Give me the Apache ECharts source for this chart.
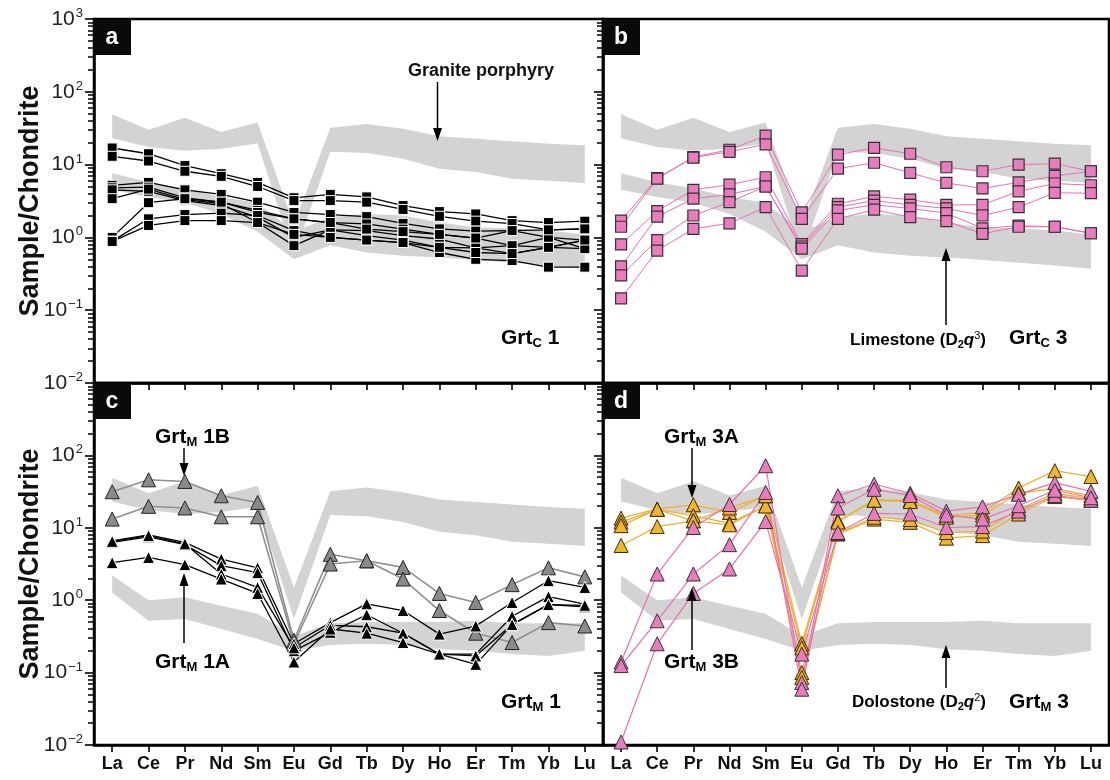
<!DOCTYPE html>
<html>
<head>
<meta charset="utf-8">
<script src="https://cdn.jsdelivr.net/npm/echarts@6/dist/echarts.min.js"></script>
<style>
html,body{margin:0;padding:0;background:#fff}
#main{width:1110px;height:780px}
</style>
</head>
<body>
<div id="main"></div>
<script>
var FONT = '"Liberation Sans", Arial, Helvetica, sans-serif';

var ree = ['La','Ce','Pr','Nd','Sm','Eu','Gd','Tb','Dy','Ho','Er','Tm','Yb','Lu'];

// grey reference fields (upper / lower edge of each field)
var graniteTop = [49, 30, 44, 28, 38, 1.5, 32, 36, 31, 24.5, 22.7, 21, 19.4, 18.4];
var graniteBot = [23, 17.5, 15.5, 16.5, 19.5, 0.55, 15, 14.4, 12, 8.8, 7.9, 6.4, 6, 5.6];
var limeTop = [7.6, 5.7, 4.7, 3.6, 3.0, 1.2, 1.9, 2.1, 2.0, 1.6, 1.38, 1.32, 1.24, 1.1];
var limeBot = [4.5, 3.6, 3.0, 2.1, 1.2, 0.5, 0.78, 0.62, 0.56, 0.53, 0.49, 0.45, 0.41, 0.37];
var doloTop = [2.2, 1.0, 1.1, 0.84, 0.65, 0.32, 0.48, 0.5, 0.5, 0.5, 0.52, 0.48, 0.48, 0.48];
var doloBot = [1.28, 0.52, 0.55, 0.4, 0.29, 0.2, 0.24, 0.25, 0.24, 0.21, 0.2, 0.18, 0.17, 0.2];

// log minor tick values (2..9 in every decade)
var minorTickVals = [
  0.02, 0.03, 0.04, 0.05, 0.06, 0.07, 0.08, 0.09,
  0.2, 0.3, 0.4, 0.5, 0.6, 0.7, 0.8, 0.9,
  2, 3, 4, 5, 6, 7, 8, 9,
  20, 30, 40, 50, 60, 70, 80, 90,
  200, 300, 400, 500, 600, 700, 800, 900
];

// a: GrtC1
var grtC1 = [
  [16.9, 14.1, 9.7, 7.5, 5.7, 3.5, 3.9, 3.6, 2.74, 2.26, 2.1, 1.7, 1.6, 1.67],
  [13, 11.2, 8.1, 6.9, 5.0, 3.2, 3.2, 3.05, 2.42, 1.95, 1.67, 1.55, 1.27, 1.31],
  [5.2, 5.7, 4.5, 3.9, 3.05, 2.2, 2.06, 1.93, 1.56, 1.31, 1.22, 1.24, 1.0, 0.92],
  [4.8, 4.9, 3.5, 3.05, 2.35, 1.8, 1.6, 1.53, 1.3, 1.1, 0.98, 0.77, 0.73, 0.7],
  [4.5, 4.3, 3.2, 2.74, 1.9, 1.0, 1.27, 1.24, 1.06, 0.95, 0.72, 0.6, 0.73, 0.92],
  [3.4, 4.6, 3.3, 2.9, 1.6, 0.77, 1.27, 1.06, 0.92, 0.73, 0.72, 0.77, 1.0, 0.7],
  [1.0, 3.0, 3.4, 3.05, 2.2, 1.8, 1.6, 1.3, 1.2, 1.1, 0.98, 1.24, 1.27, 1.31],
  [0.89, 1.8, 2.06, 2.15, 2.0, 1.24, 1.0, 0.92, 0.85, 0.62, 0.5, 0.48, 0.39, 0.39],
  [0.88, 1.46, 1.7, 1.7, 1.6, 1.1, 1.0, 0.92, 0.85, 0.73, 0.62, 0.6, 0.73, 0.92]
];

// b: GrtC3
var grtC3 = [
  [1.7, 6.5, 12.7, 16, 25, 2.2, 13.7, 17, 14.1, 9.2, 8.1, 10, 10.3, 8.1],
  [1.4, 6.4, 12.5, 15, 19, 1.8, 8.8, 10.6, 7.7, 5.6, 4.7, 5.7, 7.0, 8.1],
  [0.8, 2.3, 4.5, 5.3, 6.7, 0.81, 2.9, 3.65, 3.3, 2.8, 2.8, 4.3, 5.5, 5.2],
  [0.4, 1.93, 3.4, 3.9, 5.0, 0.75, 2.6, 3.2, 2.8, 2.5, 2.0, 2.6, 4.1, 4.05],
  [0.3, 0.92, 2.0, 3.05, 5.0, 0.7, 2.35, 2.8, 2.5, 2.15, 1.33, 1.45, 1.4, 1.14],
  [0.145, 0.66, 1.31, 1.56, 2.6, 0.35, 1.8, 2.4, 1.9, 1.67, 1.12, 1.4, 1.4, 1.14]
];

// c: GrtM1B (grey) and GrtM1A (black)
var grtM1B = [
  [31.5, 46, 43.7, 27.7, 22.4, 0.28, 4.3, 3.5, 2.84, 1.24, 0.93, 1.64, 2.8, 2.1],
  [13.2, 19.8, 18.8, 14.2, 14.2, 0.25, 3.16, 3.5, 1.96, 0.72, 0.35, 0.26, 0.49, 0.44]
];
var grtM1A = [
  [6.6, 8.0, 6.3, 3.7, 2.8, 0.25, 0.49, 0.89, 0.72, 0.34, 0.44, 0.93, 1.86, 1.5],
  [6.3, 7.5, 5.85, 3.0, 2.4, 0.2, 0.36, 0.63, 0.35, 0.18, 0.18, 0.6, 1.12, 0.88],
  [6.5, 7.8, 6.0, 2.3, 1.5, 0.22, 0.45, 0.43, 0.35, 0.18, 0.17, 0.46, 0.87, 0.81],
  [3.3, 3.9, 3.1, 1.96, 1.24, 0.14, 0.4, 0.35, 0.26, 0.18, 0.13, 0.46, 0.87, 0.85]
];

// d: GrtM3A (orange) and GrtM3B (pink)
var grtM3A = [
  [13.6, 18.2, 20.8, 16.3, 27.7, 0.25, 12.5, 24, 24, 14.7, 16.3, 35.5, 61.5, 51],
  [12.0, 18, 14.7, 11.5, 20.2, 0.22, 12, 24, 23, 14, 15, 30, 35, 27.5],
  [10.7, 18, 12.5, 11, 20, 0.1, 8.2, 13.2, 11.9, 7.2, 7.8, 15.5, 27, 24],
  [5.7, 10.4, 12.5, 18.8, 27.7, 0.086, 8.4, 14, 13, 8.6, 9, 18, 30, 25]
];
var grtM3B = [
  [0.011, 0.25, 1.24, 2.7, 12.2, 0.18, 8.6, 15.8, 15.5, 10.1, 10.4, 17, 28, 24],
  [0.14, 2.3, 10.1, 21, 72, 0.073, 27.7, 40, 30, 17, 19.5, 29, 42, 31.8],
  [0.125, 0.52, 2.3, 5.85, 30.8, 0.059, 18.8, 34, 28, 15, 13.2, 20.2, 33, 26]
];

var chart = echarts.init(document.getElementById('main'));

var grids = [
  {left: 94, top: 19, width: 509, height: 364},
  {left: 603, top: 19, width: 506, height: 364},
  {left: 94, top: 383, width: 509, height: 362},
  {left: 603, top: 383, width: 506, height: 362}
];

var xAxes = [], yAxes = [], minorAxes = [];
grids.forEach(function (g, i) {
  g.show = true;
  g.borderColor = '#000';
  g.borderWidth = 2.5;
  xAxes.push({
    type: 'category', gridIndex: i, data: ree, boundaryGap: true,
    axisLine: {lineStyle: {color: '#000', width: 2.5}},
    axisTick: {show: true, alignWithLabel: true, interval: 0, inside: false, length: 7,
               lineStyle: {color: '#000', width: 1.6}},
    axisLabel: {show: i >= 2, interval: 0, margin: 10, color: '#111',
                fontFamily: FONT, fontWeight: 'bold', fontSize: 18},
    splitLine: {show: false}
  });
  yAxes.push({
    type: 'log', gridIndex: i, logBase: 10, min: 0.01, max: 1000,
    axisLine: {show: true, lineStyle: {color: '#000', width: 2.5}},
    axisTick: {show: true, inside: false, length: 9, lineStyle: {color: '#000', width: 1.6}},
    axisLabel: {
      show: i === 0 || i === 2, showMaxLabel: i !== 2, margin: 11,
      formatter: function (v) {
        var e = Math.round(Math.log(v) / Math.LN10);
        var s = e < 0 ? '\u2212' + (-e) : '' + e;
        return '{b|10}{s|' + s + '}';
      },
      rich: {
        b: {fontFamily: FONT, fontSize: 21, color: '#222', lineHeight: 24},
        s: {fontFamily: FONT, fontSize: 13, color: '#222', lineHeight: 13, verticalAlign: 'top', padding: [0, 0, 0, 1]}
      }
    },
    splitLine: {show: false}
  });
  // second, bare log axis in the same place that only carries the minor ticks
  minorAxes.push({
    type: 'log', gridIndex: i, logBase: 10, min: 0.01, max: 1000, position: 'left',
    axisLine: {show: false},
    axisLabel: {show: false},
    splitLine: {show: false},
    axisTick: {show: true, inside: false, length: 6, customValues: minorTickVals,
               lineStyle: {color: '#000', width: 1.5}}
  });
});
yAxes = yAxes.concat(minorAxes);

function band(gi, top, bot) {
  return {
    type: 'custom', xAxisIndex: gi, yAxisIndex: gi, silent: true, z: 1,
    data: [[0, top[0]]],
    renderItem: function (params, api) {
      var pts = [];
      for (var i = 0; i < top.length; i++) pts.push(api.coord([i, top[i]]));
      for (var j = bot.length - 1; j >= 0; j--) pts.push(api.coord([j, bot[j]]));
      return {type: 'polygon', shape: {points: pts}, style: {fill: '#d3d3d3'}};
    }
  };
}

function lines(gi, rows, st) {
  return rows.map(function (r) {
    return {
      type: 'line', xAxisIndex: gi, yAxisIndex: gi, data: r, z: 3,
      symbol: st.symbol, symbolSize: st.size, showSymbol: true, showAllSymbol: true,
      lineStyle: {color: st.line, width: st.lw},
      itemStyle: {color: st.fill, borderColor: st.border, borderWidth: st.bw},
      emphasis: {disabled: true}
    };
  });
}

var PINK = '#ea7bbf', PINKLINE = '#ec6fb6';
var series = [
  band(0, graniteTop, graniteBot), band(0, limeTop, limeBot),
  band(1, graniteTop, graniteBot), band(1, limeTop, limeBot),
  band(2, graniteTop, graniteBot), band(2, doloTop, doloBot),
  band(3, graniteTop, graniteBot), band(3, doloTop, doloBot)
];
series = series
  .concat(lines(0, grtC1, {symbol: 'rect', size: 10, line: '#000', lw: 1.3, fill: '#000', border: '#fff', bw: 1}))
  .concat(lines(1, grtC3, {symbol: 'rect', size: 11, line: PINKLINE, lw: 1, fill: PINK, border: '#333', bw: 1.2}))
  .concat(lines(2, grtM1B, {symbol: 'triangle', size: 14, line: '#8f8f8f', lw: 1.6, fill: '#8a8a8a', border: '#222', bw: 1}))
  .concat(lines(2, grtM1A, {symbol: 'triangle', size: 12, line: '#000', lw: 1.3, fill: '#000', border: '#fff', bw: 1}))
  .concat(lines(3, grtM3A, {symbol: 'triangle', size: 14, line: '#edb130', lw: 1.3, fill: '#f1b52b', border: '#3a2a00', bw: 1}))
  .concat(lines(3, grtM3B, {symbol: 'triangle', size: 14, line: PINKLINE, lw: 1.2, fill: PINK, border: '#333', bw: 1}));

// annotations
function arrow(x, yFrom, yTip) {
  var dir = yTip > yFrom ? 1 : -1;
  return [
    {type: 'line', z: 50, shape: {x1: x, y1: yFrom, x2: x, y2: yTip - dir * 10},
     style: {stroke: '#000', lineWidth: 1.5}},
    {type: 'polygon', z: 50, shape: {points: [[x - 4.5, yTip - dir * 13], [x + 4.5, yTip - dir * 13], [x, yTip]]},
     style: {fill: '#000'}}
  ];
}
var grtRich = {
  m: {fontFamily: FONT, fontWeight: 'bold', fontSize: 21, color: '#111', lineHeight: 24},
  s: {fontFamily: FONT, fontWeight: 'bold', fontSize: 13, color: '#111', lineHeight: 14, verticalAlign: 'bottom'}
};
var rockRich = {
  m: {fontFamily: FONT, fontWeight: 'bold', fontSize: 17, color: '#111', lineHeight: 20},
  d: {fontFamily: FONT, fontWeight: 'bold', fontSize: 11, color: '#111', lineHeight: 14, verticalAlign: 'bottom'},
  i: {fontFamily: FONT, fontWeight: 'bold', fontStyle: 'italic', fontSize: 17, color: '#111', lineHeight: 20},
  u: {fontFamily: FONT, fontSize: 11, color: '#111', lineHeight: 12, verticalAlign: 'top'}
};
function rtext(x, y, text, rich, align) {
  return {type: 'text', z: 60, x: x, y: y,
          style: {text: text, rich: rich, align: align || 'left', verticalAlign: 'middle'}};
}
function letterBox(x, y, ch) {
  return [
    {type: 'rect', z: 40, shape: {x: x, y: y, width: 37, height: 36}, style: {fill: '#0a0a0a'}},
    {type: 'text', z: 41, x: x + 18, y: y + 19,
     style: {text: ch, fill: '#fff', font: 'bold 23px ' + FONT, align: 'center', verticalAlign: 'middle'}}
  ];
}

var graphic = [];
graphic = graphic
  .concat(letterBox(94, 19, 'a')).concat(letterBox(603, 19, 'b'))
  .concat(letterBox(94, 383, 'c')).concat(letterBox(603, 383, 'd'))
  .concat(arrow(437.5, 82, 141))
  .concat(arrow(946, 325, 248))
  .concat(arrow(184, 448, 476))
  .concat(arrow(184, 643, 573))
  .concat(arrow(692, 448, 498))
  .concat(arrow(692, 650, 588))
  .concat(arrow(946, 688, 645));
graphic.push(
  {type: 'text', z: 60, x: 481, y: 71,
   style: {text: 'Granite porphyry', font: 'bold 18px ' + FONT, fill: '#111', align: 'center', verticalAlign: 'middle'}},
  rtext(986, 340, '{m|Limestone (D}{d|2}{i|q}{u|3}{m|)}', rockRich, 'right'),
  rtext(986, 702, '{m|Dolostone (D}{d|2}{i|q}{u|2}{m|)}', rockRich, 'right'),
  rtext(501, 338, '{m|Grt}{s|C}{m| 1}', grtRich),
  rtext(1009, 338, '{m|Grt}{s|C}{m| 3}', grtRich),
  rtext(501, 702, '{m|Grt}{s|M}{m| 1}', grtRich),
  rtext(1009, 702, '{m|Grt}{s|M}{m| 3}', grtRich),
  rtext(155, 437, '{m|Grt}{s|M}{m| 1B}', grtRich),
  rtext(155, 662, '{m|Grt}{s|M}{m| 1A}', grtRich),
  rtext(664, 437, '{m|Grt}{s|M}{m| 3A}', grtRich),
  rtext(664, 662, '{m|Grt}{s|M}{m| 3B}', grtRich),
  {type: 'text', z: 60, x: 31, y: 201, rotation: Math.PI / 2,
   style: {text: 'Sample/Chondrite', font: 'bold 27px ' + FONT, fill: '#111', align: 'center', verticalAlign: 'middle'}},
  {type: 'text', z: 60, x: 31, y: 564, rotation: Math.PI / 2,
   style: {text: 'Sample/Chondrite', font: 'bold 27px ' + FONT, fill: '#111', align: 'center', verticalAlign: 'middle'}}
);

chart.setOption({
  animation: false,
  backgroundColor: '#fff',
  grid: grids,
  xAxis: xAxes,
  yAxis: yAxes,
  series: series,
  graphic: graphic
});
</script>
</body>
</html>
